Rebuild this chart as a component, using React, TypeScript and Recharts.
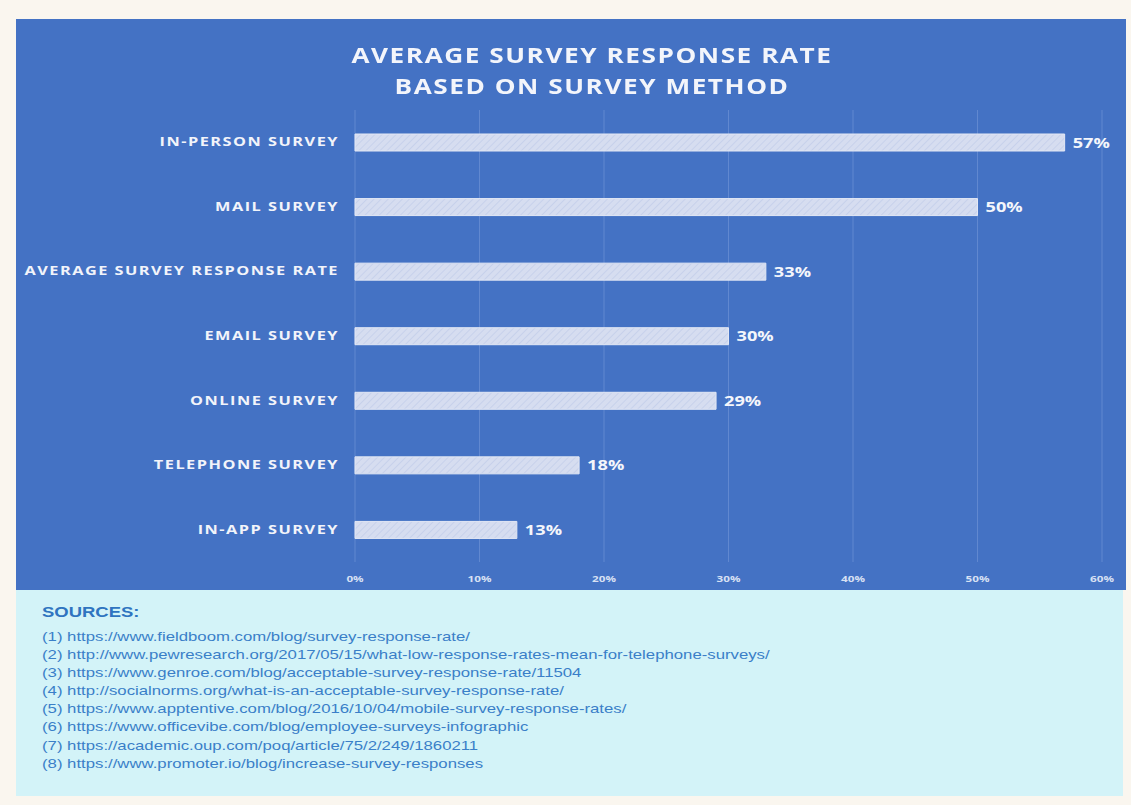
import React from 'react';
import { BarChart, Bar, XAxis, YAxis, CartesianGrid, LabelList } from 'recharts';

const methods = [
  'IN-PERSON SURVEY',
  'MAIL SURVEY',
  'AVERAGE SURVEY RESPONSE RATE',
  'EMAIL SURVEY',
  'ONLINE SURVEY',
  'TELEPHONE SURVEY',
  'IN-APP SURVEY',
];
const rates = [57, 50, 33, 30, 29, 18, 13];
const xTicks = [0, 10, 20, 30, 40, 50, 60];
const sources = [
  '(1) https://www.fieldboom.com/blog/survey-response-rate/',
  '(2) http://www.pewresearch.org/2017/05/15/what-low-response-rates-mean-for-telephone-surveys/',
  '(3) https://www.genroe.com/blog/acceptable-survey-response-rate/11504',
  '(4) http://socialnorms.org/what-is-an-acceptable-survey-response-rate/',
  '(5) https://www.apptentive.com/blog/2016/10/04/mobile-survey-response-rates/',
  '(6) https://www.officevibe.com/blog/employee-surveys-infographic',
  '(7) https://academic.oup.com/poq/article/75/2/249/1860211',
  '(8) https://www.promoter.io/blog/increase-survey-responses',
];

const data = methods.map((m, i) => ({ method: m, rate: rates[i] }));

const font = '"Open Sans", sans-serif';
// the source picture is stretched sideways, so text gets widened too
const stretch = 1.3;

const CategoryTick = (props: any) => {
  const { x, y, payload } = props;
  return (
    <g transform={`translate(${x},${y})`}>
      <text
        transform={`scale(${stretch + 0.06},1)`}
        textAnchor="end"
        dy={4}
        fill="#f2f4fa"
        fontSize={12}
        fontWeight={700}
        fontFamily={font}
        letterSpacing={1.1}
      >
        {payload.value}
      </text>
    </g>
  );
};

const PercentTick = (props: any) => {
  const { x, y, payload } = props;
  return (
    <g transform={`translate(${x},${y})`}>
      <text
        transform={`scale(${stretch},1)`}
        textAnchor="middle"
        dy={8}
        fill="#d7e0f3"
        fontSize={9}
        fontWeight={700}
        fontFamily={font}
      >
        {`${payload.value}%`}
      </text>
    </g>
  );
};

const ValueLabel = (props: any) => {
  const { x, y, width, height, value } = props;
  return (
    <g transform={`translate(${x + width + 8},${y + height / 2})`}>
      <text
        transform={`scale(${stretch},1)`}
        dy={5}
        fill="#f4f6fb"
        fontSize={14}
        fontWeight={700}
        fontFamily={font}
      >
        {`${value}%`}
      </text>
    </g>
  );
};

export default function App() {
  return (
    <div style={{ position: 'fixed', left: 0, top: 0, width: 1131, height: 805, background: '#faf6ef' }}>
      <div style={{ position: 'absolute', left: 16, top: 19, width: 1110, height: 571, background: '#4472c4' }}>
        <BarChart
          width={1110}
          height={571}
          data={data}
          layout="vertical"
          margin={{ top: 91, right: 24, bottom: 2, left: 0 }}
          barCategoryGap={24}
        >
          <defs>
            <pattern id="stripes" width="5" height="5" patternUnits="userSpaceOnUse" patternTransform="rotate(45)">
              <rect width="5" height="5" fill="#d6ddf0" />
              <line x1="0" y1="0" x2="0" y2="5" stroke="#c3cdea" strokeWidth="1.5" />
            </pattern>
          </defs>
          <CartesianGrid horizontal={false} stroke="#6188d0" strokeWidth={1} />
          <XAxis
            type="number"
            domain={[0, 60]}
            ticks={xTicks}
            axisLine={false}
            tickLine={false}
            height={26}
            tickMargin={6}
            tick={<PercentTick />}
          />
          <YAxis
            type="category"
            dataKey="method"
            width={339}
            axisLine={false}
            tickLine={false}
            tickMargin={10}
            tick={<CategoryTick />}
          />
          <Bar dataKey="rate" fill="url(#stripes)" stroke="#e3e8f5" strokeWidth={1} isAnimationActive={false}>
            <LabelList dataKey="rate" content={<ValueLabel />} />
          </Bar>
        </BarChart>
        <div
          style={{
            position: 'absolute',
            left: 0,
            width: 1152,
            top: 20,
            textAlign: 'center',
            color: '#f3f5fb',
            fontFamily: font,
            fontWeight: 700,
            fontSize: 22,
            letterSpacing: 1.3,
            lineHeight: '31px',
            transform: 'scaleX(1.19)',
          }}
        >
          <div>AVERAGE SURVEY RESPONSE RATE</div>
          <div>BASED ON SURVEY METHOD</div>
        </div>
      </div>
      <div
        style={{
          position: 'absolute',
          left: 16,
          top: 590,
          width: 1107,
          height: 206,
          background: '#d3f3f8',
          fontFamily: '"Liberation Sans", Arial, sans-serif',
          color: '#3a7fc8',
        }}
      >
        <div
          style={{
            position: 'absolute',
            left: 26,
            top: 13,
            fontSize: 15,
            fontWeight: 700,
            color: '#2f74c0',
            transform: 'scaleX(1.23)',
            transformOrigin: 'left',
          }}
        >
          SOURCES:
        </div>
        <div
          style={{
            position: 'absolute',
            left: 26,
            top: 38,
            fontSize: 13.5,
            lineHeight: '18.1px',
            whiteSpace: 'nowrap',
            transform: 'scaleX(1.24)',
            transformOrigin: 'left',
          }}
        >
          {sources.map((s) => (
            <div key={s}>{s}</div>
          ))}
        </div>
      </div>
    </div>
  );
}
